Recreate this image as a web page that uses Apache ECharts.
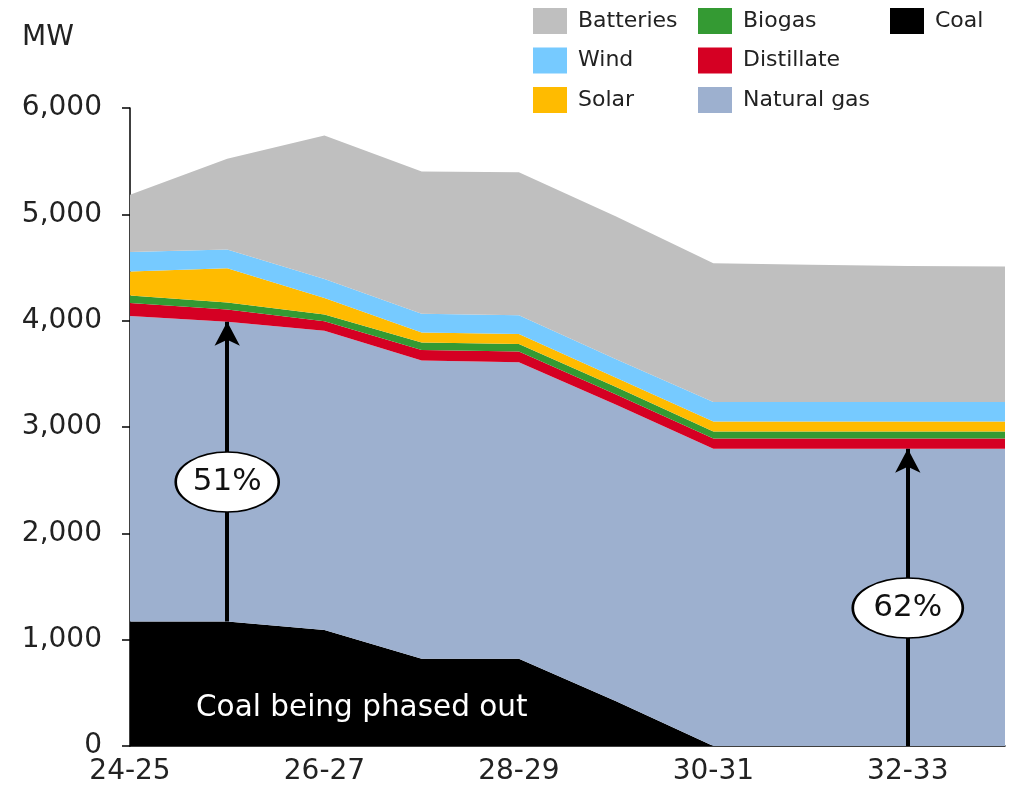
<!DOCTYPE html>
<html>
<head>
<meta charset="utf-8">
<script src="https://cdn.jsdelivr.net/npm/echarts@6/dist/echarts.min.js"></script>
<style>
html,body{margin:0;padding:0;background:#fff;}
#chart{width:1011px;height:795px;}
</style>
</head>
<body>
<div id="chart"></div>
<script>
var categories = ['24-25','25-26','26-27','27-28','28-29','29-30','30-31','31-32','32-33','33-34'];
var coal       = [1170, 1170, 1090, 820, 820, 420, 0, 0, 0, 0];
var naturalGas = [2875, 2820, 2815, 2805, 2790, 2790, 2795, 2795, 2795, 2795];
var distillate = [120, 115, 90, 100, 100, 95, 97, 97, 97, 97];
var biogas     = [72, 66, 63, 69, 70, 72, 66, 66, 66, 66];
var solar      = [226, 323, 156, 94, 95, 85, 94, 94, 94, 94];
var wind       = [182, 175, 178, 176, 175, 176, 182, 182, 182, 182];
var batteries  = [538, 853, 1349, 1339, 1345, 1342, 1306, 1291, 1281, 1275];
var yTicks = [0, 1000, 2000, 3000, 4000, 5000, 6000];
var shareLabels = ['51%', '62%'];
var shareIdx = [1, 8];
var labelY = [2483, 1298];

var FONT = 'DejaVu Sans';
var colors = {
  'Coal': '#000000',
  'Natural gas': '#9DB0CF',
  'Distillate': '#D50023',
  'Biogas': '#349A33',
  'Solar': '#FFBB00',
  'Wind': '#76CAFF',
  'Batteries': '#BFBFBF'
};

function mkSeries(name, data, extra) {
  var s = {
    name: name, type: 'line', stack: 'total', data: data,
    showSymbol: false, symbol: 'none', smooth: false,
    lineStyle: { width: 0, color: colors[name] },
    itemStyle: { color: colors[name] },
    areaStyle: { color: colors[name], opacity: 1 },
    emphasis: { disabled: true },
    silent: true, animation: false
  };
  if (extra) for (var k in extra) s[k] = extra[k];
  return s;
}

var arrowLines = [
  [{ coord: [shareIdx[0], coal[shareIdx[0]]] }, { coord: [shareIdx[0], coal[shareIdx[0]] + naturalGas[shareIdx[0]]] }],
  [{ coord: [shareIdx[1], coal[shareIdx[1]]] }, { coord: [shareIdx[1], coal[shareIdx[1]] + naturalGas[shareIdx[1]]] }]
];

var chart = echarts.init(document.getElementById('chart'), null, { renderer: 'canvas' });
var legendCommon = {
  orient: 'vertical', top: 8, icon: 'rect', itemWidth: 34, itemHeight: 26, itemGap: 13.5,
  padding: 0,
  textStyle: { fontFamily: FONT, fontSize: 22, color: '#222', padding: [0, 0, 0, 6] },
  selectedMode: false
};
function legend(left, data) {
  var l = {}; for (var k in legendCommon) l[k] = legendCommon[k];
  l.left = left; l.data = data; return l;
}

chart.setOption({
  animation: false,
  backgroundColor: '#fff',
  grid: { left: 130, right: 6, top: 108, bottom: 49, containLabel: false },
  legend: [
    legend(533, ['Batteries', 'Wind', 'Solar']),
    legend(698, ['Biogas', 'Distillate', 'Natural gas']),
    legend(890, ['Coal'])
  ],
  xAxis: {
    type: 'category', data: categories, boundaryGap: false,
    axisLine: { show: true, lineStyle: { color: '#000', width: 1.5 } },
    axisTick: { show: false },
    axisLabel: { interval: 1, fontFamily: FONT, fontSize: 28, color: '#222', margin: 12 },
    splitLine: { show: false }
  },
  yAxis: {
    type: 'value', min: yTicks[0], max: yTicks[yTicks.length - 1], interval: 1000,
    axisLine: { show: true, lineStyle: { color: '#000', width: 1.5 } },
    axisTick: { show: true, length: 8, lineStyle: { color: '#000', width: 1.5 } },
    axisLabel: { fontFamily: FONT, fontSize: 28, color: '#222', margin: 28,
      formatter: function (v) { return v.toLocaleString('en-US'); } },
    splitLine: { show: false }
  },
  graphic: [
    { type: 'text', left: 22, top: 24, style: { text: 'MW', font: '28px "DejaVu Sans"', fill: '#222' } },
    { type: 'text', left: 196, top: 693, z: 10, style: { text: 'Coal being phased out', font: '29.5px "DejaVu Sans"', fill: '#fff' } }
  ],
  series: [
    mkSeries('Coal', coal, {
      markLine: {
        silent: true, z: 5, animation: false,
        symbol: ['none', 'arrow'], symbolSize: [19, 24],
        label: { show: false },
        lineStyle: { color: '#000', width: 4, type: 'solid' },
        data: arrowLines
      },
      markPoint: {
        silent: true, z: 6, animation: false,
        symbol: 'circle',
        itemStyle: { color: '#fff', borderColor: '#000', borderWidth: 2 },
        label: { show: true, position: 'inside', fontFamily: FONT, fontSize: 31, color: '#111' },
        data: [
          { coord: [shareIdx[0], labelY[0]], symbolSize: [103, 60], value: shareLabels[0], label: { formatter: shareLabels[0] } },
          { coord: [shareIdx[1], labelY[1]], symbolSize: [110, 60], value: shareLabels[1], label: { formatter: shareLabels[1] } }
        ]
      }
    }),
    mkSeries('Natural gas', naturalGas),
    mkSeries('Distillate', distillate),
    mkSeries('Biogas', biogas),
    mkSeries('Solar', solar),
    mkSeries('Wind', wind),
    mkSeries('Batteries', batteries)
  ]
});
</script>
</body>
</html>
